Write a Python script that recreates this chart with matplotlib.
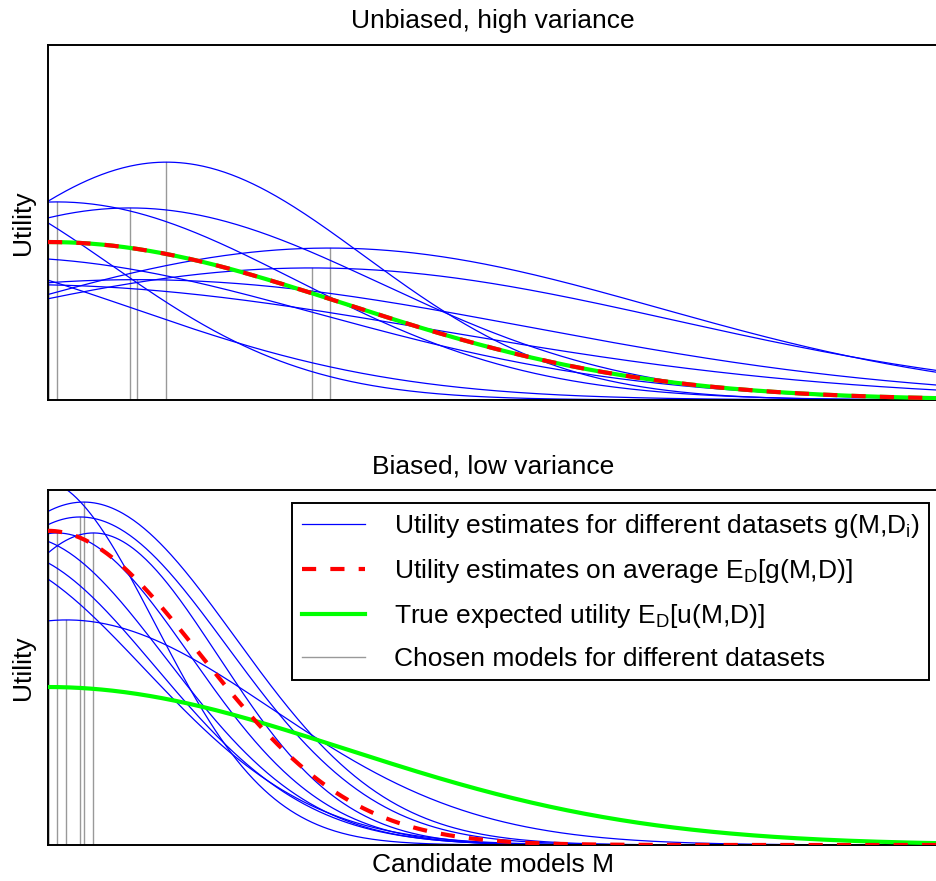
import numpy as np
import matplotlib
matplotlib.use('Agg')
import matplotlib.pyplot as plt

plt.rcParams['font.family'] = ['Liberation Sans', 'DejaVu Sans']
plt.rcParams['mathtext.fontset'] = 'custom'
plt.rcParams['mathtext.rm'] = 'Liberation Sans'

# Utility estimate curves: peak position, peak height, width
# Top panel: unbiased, high variance
top_centers = [0.133, 0.010, 0.092, 0.296, 0.316, -0.148, -0.056, -0.204, -0.030, 0.100]
top_heights = [0.670, 0.558, 0.541, 0.372, 0.428, 0.627, 0.402, 0.426, 0.325, 0.339]
top_widths = [0.222, 0.268, 0.282, 0.406, 0.370, 0.219, 0.358, 0.299, 0.465, 0.440]

# Bottom panel: biased, low variance
bot_centers = [-0.010, 0.040, 0.036, 0.010, -0.030, 0.051, -0.050, -0.080, 0.021]
bot_heights = [1.030, 0.966, 0.924, 0.879, 0.870, 0.879, 0.830, 0.820, 0.634]
bot_widths = [0.130, 0.170, 0.165, 0.150, 0.162, 0.140, 0.170, 0.188, 0.230]

# average estimate and true expected utility (peak height, width)
top_avg = (0.445, 0.335)
bot_avg = (0.885, 0.171)
true_util = (0.445, 0.335)

labels = ['Utility estimates for different datasets g(M,D$_\\mathregular{i}$)',
          'Utility estimates on average E$_\\mathregular{D}$[g(M,D)]',
          'True expected utility E$_\\mathregular{D}$[u(M,D)]',
          'Chosen models for different datasets']

FS = 19
x = np.linspace(0, 1, 500)


def bump(c, h, w):
    return h * np.exp(-(x - c) ** 2 / (2 * w ** 2))


def draw_panel(ax, centers, heights, widths, avg, title):
    handles = []
    peaks = []
    for c, h, w in zip(centers, heights, widths):
        y = bump(c, h, w)
        l, = ax.plot(x, y, color='#0000ff', lw=0.9, zorder=2)
        peaks.append((x[np.argmax(y)], y.max()))
    handles.append(l)
    for px, py in peaks:
        g, = ax.plot([px, px], [0, py], color='#999999', lw=1.0, zorder=1)
    tr, = ax.plot(x, bump(0, *true_util), color='#00ff00', lw=3.0, zorder=3)
    av, = ax.plot(x, bump(0, *avg), color='#ff0000', lw=3.0, zorder=4,
                  dashes=(3.4, 3.4))
    handles += [av, tr, g]
    ax.set_xlim(0, 1)
    ax.set_ylim(0, 1)
    ax.set_xticks([])
    ax.set_yticks([])
    for s in ax.spines.values():
        s.set_linewidth(1.4)
    ax.set_title(title, fontsize=FS, pad=12)
    ax.set_ylabel('Utility', fontsize=FS, labelpad=9)
    return handles


fig = plt.figure(figsize=(9.37, 8.81), dpi=100)
ax1 = fig.add_axes([48 / 937, 1 - 400 / 881, 890 / 937, 355 / 881])
ax2 = fig.add_axes([48 / 937, 1 - 845 / 881, 890 / 937, 355 / 881])

draw_panel(ax1, top_centers, top_heights, top_widths, top_avg, 'Unbiased, high variance')
handles = draw_panel(ax2, bot_centers, bot_heights, bot_widths, bot_avg, 'Biased, low variance')
ax2.set_xlabel('Candidate models M', fontsize=FS, labelpad=6)

leg = ax2.legend(handles, labels, loc='upper right', bbox_to_anchor=(0.990, 0.963),
                 borderaxespad=0, fontsize=FS, handlelength=2.4, handletextpad=1.1,
                 labelspacing=0.64, fancybox=False, framealpha=1, edgecolor='black',
                 borderpad=0.35)
leg.get_frame().set_linewidth(1.4)

fig.savefig('out.png', dpi=100)
